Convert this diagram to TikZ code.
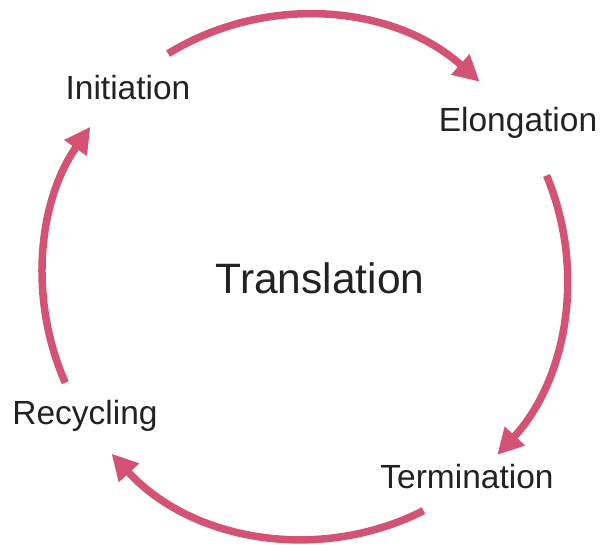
\documentclass[tikz,border=0pt]{standalone}
\usepackage{fontspec}
\setmainfont{Liberation Sans}
\usetikzlibrary{arrows.meta}
\definecolor{arc}{HTML}{D45274}
\definecolor{txt}{HTML}{222222}
\tikzset{
  lbl/.style={text=txt, font=\fontsize{33.5}{38}\selectfont, inner sep=0pt},
  cyc/.style={draw=arc, line width=7.5pt, -{Triangle[length=26pt,width=26pt]}},
}
\begin{document}
\begin{tikzpicture}[x=1pt,y=1pt]
\useasboundingbox (0,0) rectangle (600,544);
\coordinate (c) at (305,267);
\def\R{262}
\node[lbl] (ini) at (128,456) {Initiation};
\node[lbl] (elo) at (518,421) {Elongation};
\node[lbl] (ter) at (467,67) {Termination};
\node[lbl] (rec) at (85,128) {Recycling};
\node[text=txt, font=\fontsize{42.5}{48}\selectfont, inner sep=0pt] (tr) at (320,266) {Translation};
\draw[cyc] (c) ++(121.5:\R) arc[start angle=121.5, end angle=48.2, radius=\R];
\draw[cyc] (c) ++(22.8:\R) arc[start angle=22.8, end angle=-42.8, radius=\R];
\draw[cyc] (c) ++(-63.1:\R) arc[start angle=-63.1, end angle=-137.6, radius=\R];
\draw[cyc] (c) ++(203.8:\R) arc[start angle=203.8, end angle=145, radius=\R];
\end{tikzpicture}
\end{document}
